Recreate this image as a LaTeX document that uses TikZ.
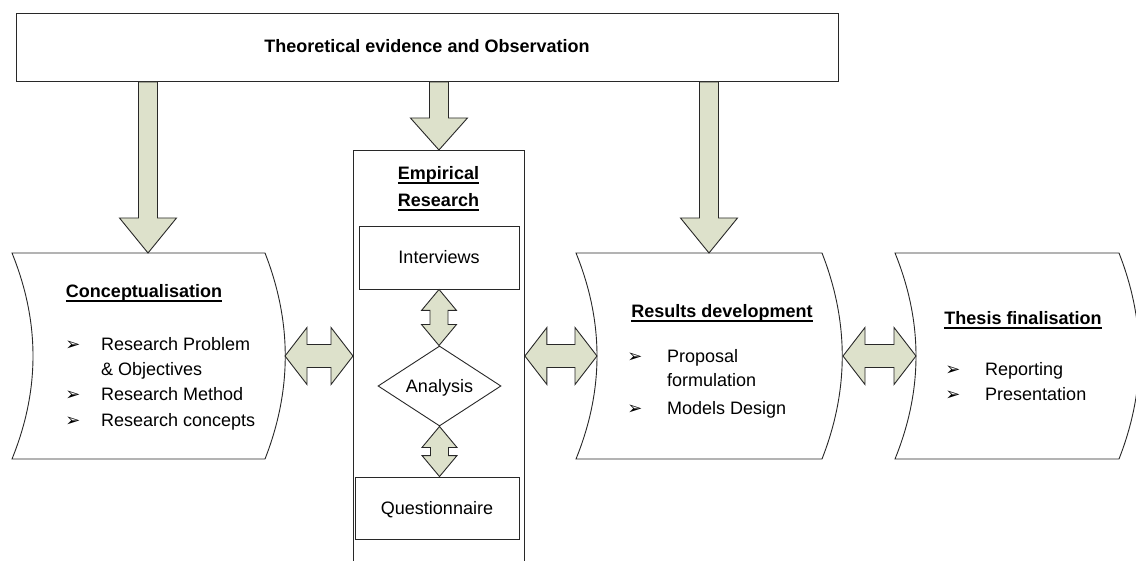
\documentclass[tikz,border=0pt]{standalone}
\usepackage{fontspec}
\setmainfont{Liberation Sans}
\newfontfamily\dvs{DejaVu Sans}
\usetikzlibrary{calc,shapes.geometric}
\definecolor{arrowfill}{RGB}{221,225,203}
\definecolor{edge}{RGB}{40,40,40}

% down block arrow: #1 start (shaft top centre), #2 tip, #3 head length
\newcommand\BlockDown[3]{\draw[barrow] let \p1=(#1), \p2=(#2) in
  (\x1-9.5pt,\y1) -- (\x1-9.5pt,\y2+#3) -- (\x1-28.5pt,\y2+#3) -- (\x1,\y2)
  -- (\x1+28.5pt,\y2+#3) -- (\x1+9.5pt,\y2+#3) -- (\x1+9.5pt,\y1) -- cycle;}
% horizontal double block arrow between two tips
\newcommand\BlockLR[2]{\draw[barrow] let \p1=(#1), \p2=(#2) in
  (\x1,\y1) -- (\x1+22pt,\y1+28.5pt) -- (\x1+22pt,\y1+11.5pt) -- (\x2-22pt,\y1+11.5pt)
  -- (\x2-22pt,\y1+28.5pt) -- (\x2,\y1) -- (\x2-22pt,\y1-28.5pt) -- (\x2-22pt,\y1-11.5pt)
  -- (\x1+22pt,\y1-11.5pt) -- (\x1+22pt,\y1-28.5pt) -- cycle;}
% vertical double block arrow between two tips
\newcommand\BlockUD[2]{\draw[barrow] let \p1=(#1), \p2=(#2) in
  (\x1,\y1) -- (\x1+17.5pt,\y1-21pt) -- (\x1+9pt,\y1-21pt) -- (\x1+9pt,\y2+21pt)
  -- (\x1+17.5pt,\y2+21pt) -- (\x1,\y2) -- (\x1-17.5pt,\y2+21pt) -- (\x1-9pt,\y2+21pt)
  -- (\x1-9pt,\y1-21pt) -- (\x1-17.5pt,\y1-21pt) -- cycle;}

\begin{document}
\begin{tikzpicture}[x=1pt,y=-1pt,
  every node/.style={font=\fontsize{18}{21.6}\selectfont, inner sep=0pt},
  box/.style={draw=edge, line width=0.9pt, fill=white},
  barrow/.style={draw=edge, line width=0.9pt, fill=arrowfill, line join=miter},
  ttl/.style={font=\fontsize{18}{21.6}\selectfont\bfseries, anchor=base},
  itm/.style={anchor=base west},
  bul/.style={anchor=base, font=\dvs\fontsize{18}{20}\selectfont},
  ul/.style={draw=black, line width=1.3pt},
  lbl/.style={text height=13pt, text depth=0pt}
]
\useasboundingbox (0,0) rectangle (1136,561);
\clip (0,0) rectangle (1136,561);

% top box
\node[box, rectangle, anchor=north west, minimum width=822pt, minimum height=68pt] (top) at (16,13) {};
\node[ttl] (toptxt) at (427,53) {Theoretical evidence and Observation};

% curved boxes
\draw[box] (12,253) -- (265,253) .. controls (292,322) and (292,390) .. (265,459)
  -- (12,459) .. controls (40,390) and (40,322) .. cycle;
\draw[box] (576,253) -- (822,253) .. controls (849,322) and (849,390) .. (822,459)
  -- (576,459) .. controls (604,390) and (604,322) .. cycle;
\draw[box] (895,253) -- (1119,253) .. controls (1146,322) and (1146,390) .. (1119,459)
  -- (895,459) .. controls (923,390) and (923,322) .. cycle;
\coordinate (concN) at (148,253);
\coordinate (concE) at (285,356);
\coordinate (resN) at (709,253);
\coordinate (resW) at (597,356);
\coordinate (resE) at (843,356);
\coordinate (thesW) at (916,356);

% empirical column
\node[box, rectangle, anchor=north west, minimum width=171pt, minimum height=430pt] (emp) at (353,150) {};
\node[box, rectangle, lbl, minimum width=160pt, minimum height=63pt] (intv) at (439,257.5) {Interviews};
\node[box, diamond, lbl, minimum width=123pt, minimum height=64pt] (ana) at (439.5,386) {Analysis};
\node[box, rectangle, lbl, minimum width=164pt, minimum height=62pt] (quest) at (437,508) {Questionnaire};
\coordinate (empW) at (emp.west |- concE);
\coordinate (empE) at (emp.east |- concE);

% texts: Conceptualisation
\node[ttl] (ct) at (144,298) {Conceptualisation};
\draw[ul] ([yshift=-3pt]ct.base west) -- ([yshift=-3pt]ct.base east);
\node[bul] (cb1) at (73,351) {➢};
\node[itm] (c1) at (101,351) {Research Problem};
\node[itm] (c2) at (101,376) {\& Objectives};
\node[bul] (cb2) at (73,401) {➢};
\node[itm] (c3) at (101,401) {Research Method};
\node[bul] (cb3) at (73,427) {➢};
\node[itm] (c4) at (101,427) {Research concepts};

% Empirical research title
\node[ttl] (et1) at (438.5,180) {Empirical};
\draw[ul] ([yshift=-3pt]et1.base west) -- ([yshift=-3pt]et1.base east);
\node[ttl] (et2) at (438.5,207) {Research};
\draw[ul] ([yshift=-3pt]et2.base west) -- ([yshift=-3pt]et2.base east);

% Results development
\node[ttl] (rt) at (722,318) {Results development};
\draw[ul] ([yshift=-3pt]rt.base west) -- ([yshift=-3pt]rt.base east);
\node[bul] (rb1) at (635,363) {➢};
\node[itm] (r1) at (667,363) {Proposal};
\node[itm] (r2) at (667,387) {formulation};
\node[bul] (rb2) at (635,414) {➢};
\node[itm] (r3) at (667,414) {Models Design};

% Thesis finalisation
\node[ttl] (tt) at (1023,325) {Thesis finalisation};
\draw[ul] ([yshift=-3pt]tt.base west) -- ([yshift=-3pt]tt.base east);
\node[bul] (tb1) at (953,376) {➢};
\node[itm] (t1) at (985,376) {Reporting};
\node[bul] (tb2) at (953,401) {➢};
\node[itm] (t2) at (985,401) {Presentation};

% block arrows
\coordinate (a1) at (top.south -| concN);
\coordinate (a2) at (top.south -| emp.north);
\coordinate (a3) at (top.south -| resN);
\BlockDown{a1}{concN}{35pt}
\BlockDown{a2}{emp.north}{32pt}
\BlockDown{a3}{resN}{35pt}
\BlockLR{concE}{empW}
\BlockLR{empE}{resW}
\BlockLR{resE}{thesW}
\BlockUD{intv.south}{ana.north}
\BlockUD{ana.south}{quest.north}
\end{tikzpicture}
\end{document}
